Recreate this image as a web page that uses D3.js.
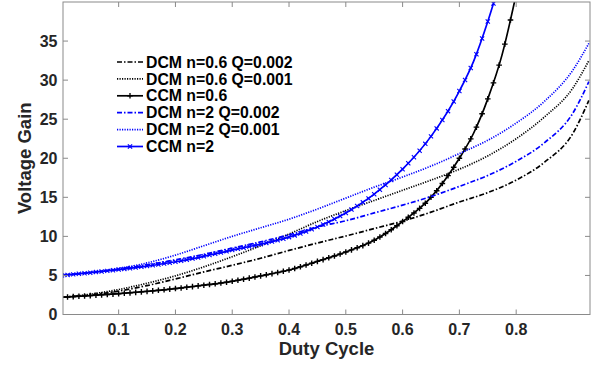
<!DOCTYPE html>
<html>
<head>
<meta charset="utf-8">
<script src="https://cdn.jsdelivr.net/npm/d3@7"></script>
<style>
  body { margin: 0; background: #fff; }
  svg text { font-family: "Liberation Sans", Arial, Helvetica, sans-serif; font-weight: bold; }
</style>
</head>
<body>
<div class="chart"></div>
<script>
// duty cycle samples and gains
const dcmD = [0, 0.05, 0.1, 0.15, 0.2, 0.25, 0.3, 0.35, 0.4, 0.45, 0.5, 0.55, 0.6, 0.65, 0.7, 0.75, 0.8, 0.85, 0.9, 0.928];
const dcmN06Q002 = [2.2, 2.5, 3.0, 3.7, 4.55, 5.45, 6.3, 7.2, 8.2, 9.15, 10.05, 11.0, 11.95, 13.1, 14.4, 15.6, 17.2, 19.5, 23.2, 27.4];
const dcmN06Q001 = [2.2, 2.6, 3.2, 4.0, 4.95, 6.1, 7.4, 8.8, 10.3, 11.9, 13.3, 14.6, 15.9, 17.2, 18.6, 20.3, 22.5, 25.3, 29.0, 32.5];
const dcmN2Q002 = [5.05, 5.35, 5.8, 6.35, 7.0, 7.7, 8.5, 9.3, 10.2, 11.2, 12.0, 13.0, 14.0, 15.1, 16.4, 17.8, 19.6, 22.0, 25.8, 29.8];
const dcmN2Q001 = [5.05, 5.4, 5.9, 6.6, 7.6, 8.8, 10.0, 11.1, 12.2, 13.5, 14.9, 16.3, 17.6, 19.0, 20.6, 22.3, 24.5, 27.3, 31.3, 34.7];

const ccmN06D = [0, 0.05, 0.1, 0.15, 0.2, 0.25, 0.3, 0.35, 0.4, 0.45, 0.5, 0.55, 0.6, 0.65, 0.7, 0.725, 0.75, 0.775, 0.8];
const ccmN06 = [2.2, 2.42, 2.66, 2.96, 3.32, 3.75, 4.25, 4.95, 5.7, 6.8, 8.0, 9.5, 11.9, 15.0, 20.0, 23.2, 27.6, 33.2, 41];
const ccmN2D = [0, 0.05, 0.1, 0.15, 0.2, 0.25, 0.3, 0.35, 0.4, 0.45, 0.5, 0.55, 0.6, 0.65, 0.7, 0.725, 0.75, 0.765];
const ccmN2 = [5.0, 5.35, 5.75, 6.2, 6.75, 7.45, 8.25, 9.0, 9.9, 11.2, 13.0, 15.4, 18.6, 22.8, 28.6, 32.4, 37.5, 41];

const xTicks = [0.1, 0.2, 0.3, 0.4, 0.5, 0.6, 0.7, 0.8];
const yTicks = [0, 5, 10, 15, 20, 25, 30, 35];

const series = [
  {name: "DCM n=0.6 Q=0.002", xs: dcmD, ys: dcmN06Q002, color: "#000", dash: "5,2,1.5,2", marker: null},
  {name: "DCM n=0.6 Q=0.001", xs: dcmD, ys: dcmN06Q001, color: "#000", dash: "1.2,1.3", marker: null},
  {name: "CCM n=0.6", xs: ccmN06D, ys: ccmN06, color: "#000", dash: null, marker: "plus"},
  {name: "DCM n=2 Q=0.002", xs: dcmD, ys: dcmN2Q002, color: "#0000ff", dash: "5,2,1.5,2", marker: null},
  {name: "DCM n=2 Q=0.001", xs: dcmD, ys: dcmN2Q001, color: "#0000ff", dash: "1.2,1.3", marker: null},
  {name: "CCM n=2", xs: ccmN2D, ys: ccmN2, color: "#0000ff", dash: null, marker: "x"}
];

const width = 600, height = 366;
const mLeft = 63, mRight = 590, mTop = 2, mBottom = 314.5;

const svg = d3.select(".chart").append("svg")
  .attr("width", width).attr("height", height);

const x = d3.scaleLinear().domain([0.002, 0.93]).range([mLeft, mRight]);
const y = d3.scaleLinear().domain([0, 40]).range([mBottom, mTop]);

svg.append("clipPath").attr("id", "clip")
  .append("rect").attr("x", mLeft).attr("y", mTop)
  .attr("width", mRight - mLeft).attr("height", mBottom - mTop);

const plot = svg.append("g").attr("clip-path", "url(#clip)");

const line = d3.line()
  .x(d => x(d[0])).y(d => y(d[1]))
  .curve(d3.curveMonotoneX);

function markerPath(kind, s) {
  if (kind == "plus") return `M${-s},0H${s}M0,${-s}V${s}`;
  return `M${-s},${-s}L${s},${s}M${-s},${s}L${s},${-s}`;
}
const markerSize = {plus: 2.8, x: 2.1};

series.forEach(s => {
  const pts = s.xs.map((d, i) => [d, s.ys[i]]);
  const p = plot.append("path")
    .attr("d", line(pts))
    .attr("fill", "none")
    .attr("stroke", s.color)
    .attr("stroke-width", 1.7)
    .attr("stroke-dasharray", s.dash);

  if (s.marker) {
    // markers every 0.01 along the drawn curve, like the MATLAB plot
    const node = p.node();
    const total = node.getTotalLength();
    const maxD = s.xs[s.xs.length - 1];
    for (let k = 0; k <= Math.round(maxD * 100); k++) {
      const tx = x(k / 100);
      let lo = 0, hi = total;
      for (let it = 0; it < 30; it++) {
        const mid = (lo + hi) / 2;
        if (node.getPointAtLength(mid).x < tx) lo = mid; else hi = mid;
      }
      const pt = node.getPointAtLength(lo);
      if (pt.y < mTop - 5) break;
      plot.append("path")
        .attr("transform", `translate(${pt.x},${pt.y})`)
        .attr("d", markerPath(s.marker, markerSize[s.marker]))
        .attr("stroke", s.color).attr("stroke-width", s.marker == "plus" ? 1.4 : 1.1).attr("fill", "none");
    }
  }
});

// axes box and inward ticks on all sides
const axisColor = "#8a8a8a";
svg.append("rect")
  .attr("x", mLeft).attr("y", mTop).attr("width", mRight - mLeft).attr("height", mBottom - mTop)
  .attr("fill", "none").attr("stroke", axisColor).attr("stroke-width", 1);

const tl = 5;
xTicks.forEach(t => {
  svg.append("line").attr("x1", x(t)).attr("x2", x(t)).attr("y1", mBottom).attr("y2", mBottom - tl).attr("stroke", axisColor);
  svg.append("line").attr("x1", x(t)).attr("x2", x(t)).attr("y1", mTop).attr("y2", mTop + tl).attr("stroke", axisColor);
  svg.append("text").attr("x", x(t)).attr("y", 335).attr("text-anchor", "middle")
    .attr("font-size", 16).attr("fill", "#262626").text(t.toFixed(1));
});
yTicks.forEach(t => {
  svg.append("line").attr("x1", mLeft).attr("x2", mLeft + tl).attr("y1", y(t)).attr("y2", y(t)).attr("stroke", axisColor);
  svg.append("line").attr("x1", mRight).attr("x2", mRight - tl).attr("y1", y(t)).attr("y2", y(t)).attr("stroke", axisColor);
  svg.append("text").attr("x", 57.5).attr("y", y(t)).attr("dy", "0.36em").attr("text-anchor", "end")
    .attr("font-size", 16).attr("fill", "#262626").text(t);
});

svg.append("text").attr("x", (mLeft + mRight) / 2).attr("y", 355).attr("text-anchor", "middle")
  .attr("font-size", 18.5).attr("fill", "#262626").text("Duty Cycle");
svg.append("text").attr("transform", `translate(31,${(mTop + mBottom) / 2}) rotate(-90)`)
  .attr("text-anchor", "middle").attr("font-size", 18.5).attr("fill", "#262626").text("Voltage Gain");

// legend
const lg = svg.append("g");
series.forEach((s, i) => {
  const cy = 62 + i * 16.9;
  lg.append("line").attr("x1", 117).attr("x2", 143).attr("y1", cy).attr("y2", cy)
    .attr("stroke", s.color).attr("stroke-width", 1.7).attr("stroke-dasharray", s.dash);
  if (s.marker) {
    lg.append("path").attr("transform", `translate(130,${cy})`)
      .attr("d", markerPath(s.marker, markerSize[s.marker])).attr("stroke", s.color).attr("stroke-width", 1.3);
  }
  lg.append("text").attr("x", 146).attr("y", cy).attr("dy", "0.36em")
    .attr("font-size", 15.8).attr("fill", "#000").text(s.name);
});
</script>
</body>
</html>
